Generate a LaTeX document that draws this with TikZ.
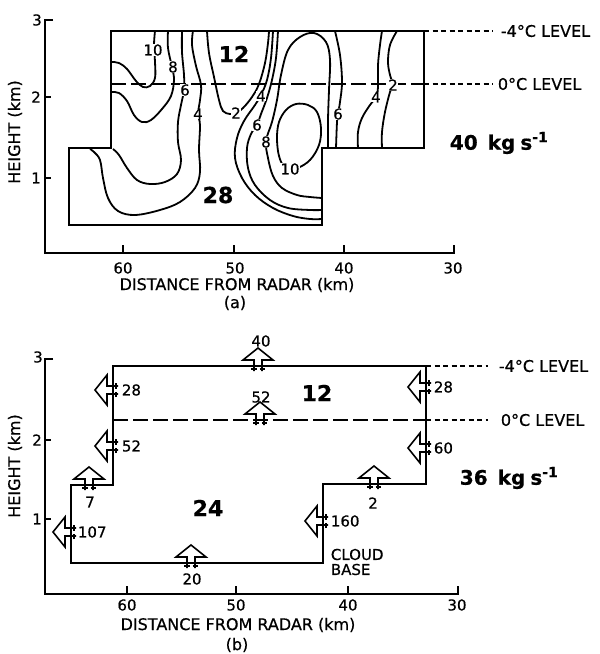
\documentclass[tikz,border=0pt]{standalone}
\usepackage{fontspec}
\setmainfont{DejaVu Sans}[FakeBold=0.6]

\tikzset{
  iso/.style={line width=1.8pt, smooth, tension=0.6},
  shortdash/.style={line width=1.3pt, dash pattern=on 5pt off 3.5pt},
  longdash/.style={line width=1.4pt, dash pattern=on 15pt off 5pt},
  clab/.style={fill=white, inner sep=0pt, font=\fontsize{15}{17}\selectfont},
  num/.style={inner sep=1pt, font=\fontsize{15}{17}\selectfont},
  ttl/.style={inner sep=1pt, font=\fontsize{16}{18}\selectfont},
  big/.style={inner sep=1pt, font=\bfseries\fontsize{22}{26}\selectfont},
  flux/.pic={
    \draw[line width=1.6pt, line join=miter] (-4,5) -- (-4,-6) -- (-15,-6) -- (0,-18) -- (15,-6) -- (4,-6) -- (4,5);
    \draw[line width=1.3pt] (-7,3) -- (-1.5,3) (1.5,3) -- (7,3);
  }
}

\begin{document}
\begin{tikzpicture}[x=1pt, y=-1pt, line width=1.8pt]
  \useasboundingbox (0,0) rectangle (600,654);

  % ---- (a) ----
  \draw (53,20) -- (45,20) -- (45,253) -- (454,253) -- (454,245);
  \draw (45,97) -- (51,97);
  \draw (45,178) -- (51,178);
  \draw (123,253) -- (123,245);
  \draw (234,253) -- (234,245);
  \draw (344,253) -- (344,245);
  \node[num] (ay3) at (37,20) {3};
  \node[num] (ay2) at (36,97) {2};
  \node[num] (ay1) at (36,178) {1};
  \node[num] (ax60) at (123,268) {60};
  \node[num] (ax50) at (235,268) {50};
  \node[num] (ax40) at (344,268) {40};
  \node[num] (ax30) at (453,268) {30};
  \node[ttl, rotate=90] (aheight) at (15,132) {HEIGHT (km)};
  \node[ttl] (adist) at (237,285) {DISTANCE FROM RADAR (km)};
  \node[ttl] (acap) at (235,303) {(a)};

  \draw (111,31) -- (424,31) -- (424,148) -- (322,148) -- (322,225) -- (69,225) -- (69,148) -- (111,148) -- cycle;
  \draw[longdash] (111,84) -- (424,84);
  \draw[shortdash] (424,84) -- (493,84);
  \draw[shortdash] (424,31) -- (493,31);
  \node[ttl, anchor=west] (am4) at (499,31) {-4°C LEVEL};
  \node[ttl, anchor=west] (a0) at (496,84) {0°C LEVEL};

  % contours
  \draw[iso] plot coordinates {(155,31) (154,45) (155,62) (155,78) (150,86) (143,87) (136,81) (127,69) (119,63) (112,62)};
  \draw[iso] plot coordinates {(168,31) (168,48) (172,67) (174,80) (171,96) (162,109) (151,120) (142,122) (134,115) (127,101) (119,93) (112,92)};
  \draw[iso] plot coordinates {(182,31) (182,52) (184,75) (184,90) (181,105) (178,122) (178,142) (181,160) (177,174) (165,182) (150,184) (137,180) (127,168) (119,155) (113,149)};
  \draw[iso] plot coordinates {(193,31) (192,45) (196,66) (201,85) (200,100) (198,114) (200,125) (199,150) (200,172) (195,188) (180,202) (160,210) (135,215) (118,211) (108,198) (103,178) (100,160) (94,152) (90,149)};
  \draw[iso] plot coordinates {(207,31) (209,53) (214,77) (219,100) (223,111) (230,114) (236,113) (243,108) (252,97) (259,84) (265,63) (268,43) (269,31)};
  \draw[iso] plot coordinates {(273,31) (271,58) (267,80) (261,95) (255,105) (244,121) (237,138) (235,158) (242,178) (255,195) (273,208) (293,216) (310,219) (322,219)};
  \draw[iso] plot coordinates {(278,31) (276,58) (272,80) (267,98) (261,114) (257,125) (251,134) (247,148) (248,168) (255,185) (270,200) (288,208) (310,210) (322,210)};
  \draw[iso] plot coordinates {(328,148) (328,120) (329,90) (330,60) (326,42) (314,33) (300,37) (288,50) (281,75) (277,100) (272,122) (266,141) (268,158) (273,176) (282,188) (297,195) (310,197) (322,198)};
  \draw[iso] plot[smooth cycle] coordinates {(297,168) (310,160) (319,145) (321,128) (317,112) (308,105) (296,104) (286,110) (279,122) (277,138) (279,156) (285,167)};
  \draw[iso] plot coordinates {(335,31) (340,55) (342,82) (340,102) (338,114) (337,122) (336,148)};
  \draw[iso] plot coordinates {(382,31) (380,45) (378,65) (378,87) (376,97) (370,105) (362,118) (358,132) (358,148)};
  \draw[iso] plot coordinates {(397,31) (390,45) (388,62) (390,75) (393,85) (390,92) (385,112) (382,132) (382,148)};

  \node[clab] (c10a) at (153,50) {10};
  \node[clab] (c8a) at (173,67) {8};
  \node[clab] (c6a) at (185,90) {6};
  \node[clab] (c4a) at (198,114) {4};
  \node[clab] (c2a) at (236,113) {2};
  \node[clab] (c4b) at (261,96) {4};
  \node[clab] (c6b) at (257,125) {6};
  \node[clab] (c8b) at (266,142) {8};
  \node[clab] (c10b) at (290,169) {10};
  \node[clab] (c6c) at (338,114) {6};
  \node[clab] (c4c) at (376,97) {4};
  \node[clab] (c2c) at (393,85) {2};

  \node[big] (a12) at (234,54) {12};
  \node[big] (a28) at (218,195) {28};
  \node[big, anchor=west, font=\bfseries\fontsize{20}{24}\selectfont] (aflux) at (448,143) {40\hspace{10pt}kg\hspace{5pt}s\textsuperscript{-1}};

  % ---- (b) ----
  \draw (53,359) -- (45,359) -- (45,594) -- (458,594) -- (458,586);
  \draw (45,440) -- (51,440);
  \draw (45,519) -- (51,519);
  \draw (127,594) -- (127,586);
  \draw (236,594) -- (236,586);
  \draw (348,594) -- (348,586);
  \node[num] (by3) at (38,357) {3};
  \node[num] (by2) at (37,440) {2};
  \node[num] (by1) at (37,519) {1};
  \node[num] (bx60) at (127,605) {60};
  \node[num] (bx50) at (236,605) {50};
  \node[num] (bx40) at (348,605) {40};
  \node[num] (bx30) at (457,605) {30};
  \node[ttl, rotate=90] (bheight) at (15,466) {HEIGHT (km)};
  \node[ttl] (bdist) at (238,625) {DISTANCE FROM RADAR (km)};
  \node[ttl] (bcap) at (237,645) {(b)};

  \draw (113,366) -- (426,366) -- (426,484) -- (323,484) -- (323,563) -- (71,563) -- (71,485) -- (113,485) -- cycle;
  \draw[longdash] (113,420) -- (426,420);
  \draw[shortdash] (426,420) -- (488,420);
  \draw[shortdash] (426,366) -- (488,366);
  \node[ttl, anchor=west] (bm4) at (497,366) {-4°C LEVEL};
  \node[ttl, anchor=west] (b0) at (499,420) {0°C LEVEL};

  % fluxes
  \pic at (258,366) {flux};
  \pic at (260,420) {flux};
  \pic[rotate=90] at (113,390) {flux};
  \pic[rotate=90] at (113,446) {flux};
  \pic at (89,485) {flux};
  \pic[rotate=90] at (71,532) {flux};
  \pic at (191,563) {flux};
  \pic[rotate=90] at (323,521) {flux};
  \pic at (374,484) {flux};
  \pic[rotate=90] at (426,387) {flux};
  \pic[rotate=90] at (426,448) {flux};

  \node[num] (f40) at (261,341) {40};
  \node[num] (f52a) at (261,397) {52};
  \node[num, anchor=west] (f28a) at (120,390) {28};
  \node[num, anchor=west] (f52b) at (120,446) {52};
  \node[num] (f7) at (90,502) {7};
  \node[num, anchor=west] (f107) at (76,532) {107};
  \node[num] (f20) at (192,579) {20};
  \node[num, anchor=west] (f160) at (329,521) {160};
  \node[num] (f2) at (373,503) {2};
  \node[num, anchor=west] (f28b) at (432,387) {28};
  \node[num, anchor=west] (f60) at (432,448) {60};

  \node[num, anchor=west, align=left, font=\fontsize{15}{15}\selectfont] (cbase) at (329,562) {CLOUD\\BASE};
  \node[big] (b12) at (317,393) {12};
  \node[big] (b24) at (208,508) {24};
  \node[big, anchor=west, font=\bfseries\fontsize{20}{24}\selectfont] (bflux) at (458,478) {36\hspace{10pt}kg\hspace{5pt}s\textsuperscript{-1}};
\end{tikzpicture}
\end{document}
